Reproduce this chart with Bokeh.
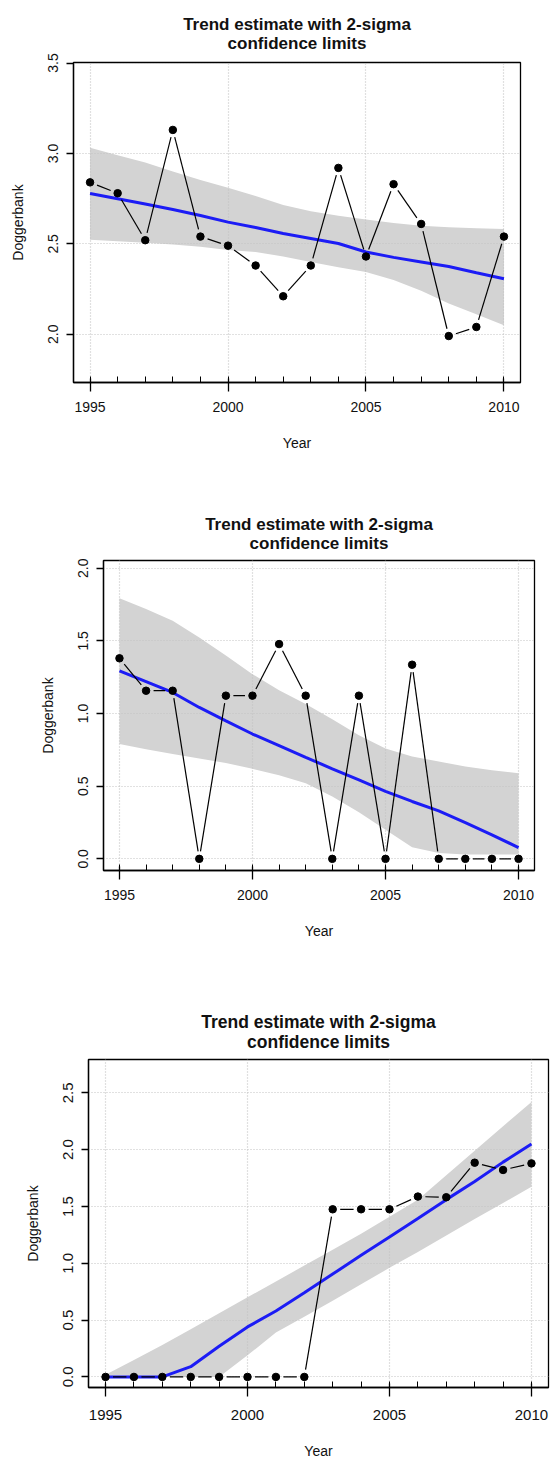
import numpy as np
from bokeh.plotting import figure
from bokeh.layouts import column
from bokeh.models import Range1d, SingleIntervalTicker, PrintfTickFormatter, Title
from bokeh.embed import file_html
from bokeh.resources import INLINE

YEARS = [1995, 1996, 1997, 1998, 1999, 2000, 2001, 2002,
         2003, 2004, 2005, 2006, 2007, 2008, 2009, 2010]

TITLE_1 = "Trend estimate with 2-sigma"
TITLE_2 = "confidence limits"
X_LABEL = "Year"
Y_LABEL = "Doggerbank"

# Panel 1
obs_1 = [2.84, 2.78, 2.52, 3.13, 2.54, 2.49, 2.38, 2.21,
         2.38, 2.92, 2.43, 2.83, 2.61, 1.99, 2.04, 2.54]
trend_1 = [2.778, 2.749, 2.72, 2.69, 2.657, 2.62, 2.59, 2.557,
           2.53, 2.502, 2.455, 2.425, 2.40, 2.375, 2.34, 2.307]
upper_1 = [3.031, 2.99, 2.95, 2.90, 2.853, 2.81, 2.765, 2.715,
           2.68, 2.655, 2.634, 2.615, 2.60, 2.592, 2.586, 2.582]
lower_1 = [2.522, 2.514, 2.506, 2.496, 2.484, 2.466, 2.455, 2.43,
           2.40, 2.37, 2.344, 2.30, 2.24, 2.17, 2.11, 2.05]

# Panel 2
obs_2 = [1.38, 1.157, 1.157, 0.0, 1.123, 1.123, 1.478, 1.123,
         0.0, 1.123, 0.0, 1.336, 0.0, 0.0, 0.0, 0.0]
trend_2 = [1.294, 1.22, 1.145, 1.042, 0.95, 0.859, 0.78, 0.699,
           0.62, 0.543, 0.465, 0.395, 0.33, 0.25, 0.165, 0.078]
upper_2 = [1.794, 1.72, 1.638, 1.523, 1.40, 1.271, 1.16, 1.065,
           0.96, 0.85, 0.76, 0.705, 0.67, 0.635, 0.61, 0.59]
lower_2 = [0.79, 0.755, 0.722, 0.69, 0.66, 0.62, 0.575, 0.52,
           0.43, 0.32, 0.2, 0.08, 0.04, 0.03, 0.03, 0.03]

# Panel 3
obs_3 = [0.0, 0.0, 0.0, 0.0, 0.0, 0.0, 0.0, 0.0,
         1.475, 1.475, 1.475, 1.587, 1.581, 1.885, 1.821, 1.879]
trend_3 = [0.0, 0.0, 0.0, 0.09, 0.27, 0.44, 0.58, 0.74,
           0.905, 1.07, 1.232, 1.395, 1.56, 1.72, 1.89, 2.05]
upper_3 = [0.02, 0.15, 0.28, 0.42, 0.56, 0.70, 0.84, 0.98,
           1.12, 1.26, 1.41, 1.56, 1.775, 1.99, 2.205, 2.42]
lower_3 = [0.0, 0.0, 0.0, 0.0, 0.0, 0.19, 0.39, 0.53,
           0.67, 0.815, 0.96, 1.10, 1.245, 1.39, 1.53, 1.674]

FONT = "Liberation Sans"


def gapped_segments(xs, ys, sx, sy, gap):
    xs = np.asarray(xs, float)
    ys = np.asarray(ys, float)
    x0s, y0s, x1s, y1s = [], [], [], []
    for i in range(len(xs) - 1):
        dxp = (xs[i + 1] - xs[i]) * sx
        dyp = (ys[i + 1] - ys[i]) * sy
        L = float(np.hypot(dxp, dyp))
        if L <= 2 * gap:
            continue
        fx = (xs[i + 1] - xs[i]) * gap / L
        fy = (ys[i + 1] - ys[i]) * gap / L
        x0s.append(xs[i] + fx)
        y0s.append(ys[i] + fy)
        x1s.append(xs[i + 1] - fx)
        y1s.append(ys[i + 1] - fy)
    return x0s, y0s, x1s, y1s


def make_panel(obs, trend, upper, lower, y_start, y_end, height,
               bl, br, bt, bb, title_size, tick_size, title_standoff,
               x_label_standoff):
    x_start, x_end = 1994.4, 2010.6
    p = figure(width=551, height=height,
               x_range=Range1d(x_start, x_end), y_range=Range1d(y_start, y_end),
               output_backend="svg", toolbar_location=None,
               min_border_left=bl, min_border_right=br,
               min_border_top=bt, min_border_bottom=bb)
    p.frame_align = False
    p.background_fill_color = "white"
    p.border_fill_color = "white"
    p.outline_line_color = "black"
    p.outline_line_width = 1.3
    p.outline_line_alpha = 1.0

    frame_w = 551 - bl - br
    frame_h = height - bt - bb
    sx = frame_w / (x_end - x_start)
    sy = frame_h / (y_end - y_start)

    t = Title(text=TITLE_1 + "\n" + TITLE_2, align="center",
              text_font=FONT, text_font_size=title_size,
              text_font_style="bold", text_color="#111111",
              text_line_height=1.0, standoff=title_standoff)
    if "text_align" in t.properties():
        t.text_align = "center"
    p.add_layout(t, "above")

    # axes
    xax = p.xaxis[0]
    xax.ticker = SingleIntervalTicker(interval=5, num_minor_ticks=5)
    xax.formatter = PrintfTickFormatter(format="%d")
    xax.axis_label = X_LABEL
    yax = p.yaxis[0]
    yax.ticker = SingleIntervalTicker(interval=0.5, num_minor_ticks=0)
    yax.formatter = PrintfTickFormatter(format="%.1f")
    yax.axis_label = Y_LABEL
    yax.major_label_orientation = "vertical"

    for ax in (xax, yax):
        ax.axis_line_color = "black"
        ax.axis_line_width = 1.3
        ax.major_tick_line_color = "black"
        ax.major_tick_line_width = 1.3
        ax.minor_tick_line_color = "black"
        ax.minor_tick_line_width = 1.0
        ax.major_label_text_font = FONT
        ax.major_label_text_font_size = tick_size
        ax.major_label_text_color = "#111111"
        ax.axis_label_text_font = FONT
        ax.axis_label_text_font_size = "14px"
        ax.axis_label_text_font_style = "normal"
        ax.axis_label_text_color = "#111111"

    xax.major_tick_in = 4
    xax.major_tick_out = 9
    xax.minor_tick_in = 6
    xax.minor_tick_out = 0
    xax.major_label_standoff = x_label_standoff
    xax.axis_label_standoff = 20

    yax.major_tick_in = 0
    yax.major_tick_out = 7
    yax.major_label_standoff = 8
    yax.axis_label_standoff = 20

    for g in (p.xgrid[0], p.ygrid[0]):
        g.grid_line_color = "#c2c2c2"
        g.grid_line_dash = "1 2"
        g.grid_line_width = 1.2

    # band, trend, observations
    p.varea(x=YEARS, y1=lower, y2=upper, fill_color="#d3d3d3",
            fill_alpha=1.0, level="image")
    p.line(YEARS, trend, line_color="#1c1cf5", line_width=3)
    x0, y0, x1, y1 = gapped_segments(YEARS, obs, sx, sy, 7.5)
    p.segment(x0=x0, y0=y0, x1=x1, y1=y1, line_color="black", line_width=1.2)
    p.scatter(YEARS, obs, size=7.5, fill_color="black", line_color="black")
    return p


p1 = make_panel(obs_1, trend_1, upper_1, lower_1, 1.733, 3.503, 480,
                73, 31, 62, 98, "17px", "14px", 20, 10)
p2 = make_panel(obs_2, trend_2, upper_2, lower_2, -0.08, 2.053, 480,
                103, 17, 80, 90, "17px", "14px", 16, 10)
p3 = make_panel(obs_3, trend_3, upper_3, lower_3, -0.093, 2.793, 501,
                88, 3, 99, 73, "17.5px", "15px", 16, 13)

layout = column(p1, p2, p3, spacing=0)
open("out.html", "w").write(file_html(layout, INLINE))
